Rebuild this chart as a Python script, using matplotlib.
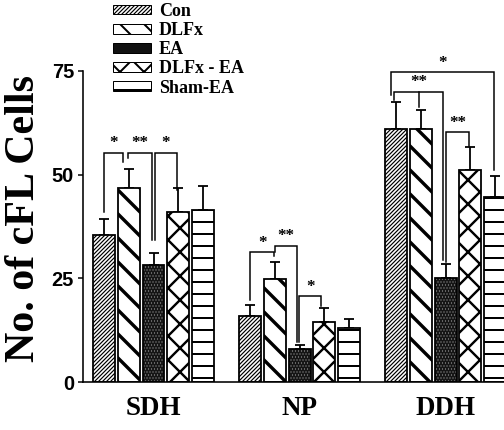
import matplotlib
matplotlib.use("Agg")
import matplotlib.pyplot as plt
from matplotlib.patches import Patch
import numpy as np

# ---------------- data ----------------
regions = ["SDH", "NP", "DDH"]
series = ["Con", "DLFx", "EA", "DLFx - EA", "Sham-EA"]
means = {
    "Con":       [35.4, 15.9, 61.0],
    "DLFx":      [46.7, 24.8, 61.0],
    "EA":        [28.2, 8.0, 25.1],
    "DLFx - EA": [41.0, 14.5, 51.1],
    "Sham-EA":   [41.4, 13.0, 44.6],
}
errors = {
    "Con":       [3.9, 2.7, 6.5],
    "DLFx":      [4.6, 4.1, 4.5],
    "EA":        [2.9, 0.9, 3.3],
    "DLFx - EA": [5.7, 3.3, 5.5],
    "Sham-EA":   [5.8, 2.2, 5.0],
}
yticks = [0, 25, 50, 75]
ylabel = "No. of cFL Cells"

# significance brackets: (group, left bar idx, right bar idx, top y,
#                         left leg bottom, right leg bottom, label, [middle legs (idx, bottom)])
brackets = [
    (0, 0.0, 0.77, 55.2, 41.0, 53.0, "*", []),
    (0, 0.97, 1.94, 55.2, 54.0, 34.2, "**", []),
    (0, 2.06, 2.95, 55.2, 34.2, 46.3, "*", []),
    (1, 0.0, 0.97, 31.3, 19.8, 30.4, "*", []),
    (1, 1.01, 1.90, 32.8, 31.3, 9.6, "**", []),
    (1, 1.98, 2.87, 20.7, 9.6, 18.3, "*", []),
    (2, -0.2, 3.95, 74.7, 69.2, 51.1, "*", []),
    (2, -0.08, 1.9, 69.9, 68.0, 29.4, "**", [(0.93, 66.3)]),
    (2, 2.03, 2.96, 60.2, 29.0, 56.9, "**", []),
]

# ---------------- styles ----------------
SERIF = "Liberation Serif"
SANS = "Liberation Sans"
styles = {
    "Con":       dict(hatch="//////", hlw=1.2, face="white"),
    "DLFx":      dict(hatch="\\", hlw=3.4, face="white"),
    "EA":        dict(hatch="....", hlw=0.6, face="#151515"),
    "DLFx - EA": dict(hatch="x", hlw=2.4, face="white"),
    "Sham-EA":   dict(hatch="-", hlw=2.0, face="white"),
}

fig = plt.figure(figsize=(504 / 72, 430 / 72), dpi=72)
ax = fig.add_axes([83 / 504, 48 / 430, 421 / 504, 311 / 430])

gx = np.arange(len(regions))
step = 0.169
width = 0.15


def with_hatch_lw(artist, lw):
    try:
        artist.set_hatch_linewidth(lw)
    except AttributeError:
        pass
    orig = artist.draw

    def draw(renderer, *a, **kw):
        with plt.rc_context({"hatch.linewidth": lw}):
            return orig(renderer, *a, **kw)

    artist.draw = draw


legend_handles = []
for k, s in enumerate(series):
    st = styles[s]
    x = gx + (k - 2) * step
    with plt.rc_context({"hatch.linewidth": st["hlw"]}):
        if s == "EA":
            bars = ax.bar(x, means[s], width, color=st["face"], edgecolor="#9a9a9a",
                          hatch=st["hatch"], linewidth=0, zorder=2)
            for b in bars:
                with_hatch_lw(b, st["hlw"])
            ax.bar(x, means[s], width, fill=False, edgecolor="black", linewidth=1.8, zorder=3)
            h = Patch(facecolor="#111111", edgecolor="black", linewidth=1.0)
        else:
            bars = ax.bar(x, means[s], width, color=st["face"], edgecolor="black",
                          hatch=st["hatch"], linewidth=1.8, zorder=2)
            for b in bars:
                with_hatch_lw(b, st["hlw"])
            h = Patch(facecolor=st["face"], edgecolor="black", hatch=st["hatch"], linewidth=1.0)
    ax.errorbar(x, means[s], yerr=[np.zeros(len(gx)), errors[s]], fmt="none",
                ecolor="black", elinewidth=1.8, capsize=5, capthick=1.8, zorder=1)
    legend_handles.append(h)

# brackets
for g, li, ri, top, lb, rb, lab, mids in brackets:
    xl = g + (li - 2) * step
    xr = g + (ri - 2) * step
    ax.plot([xl, xl, xr, xr], [lb, top, top, rb], color="black", lw=1.5,
            zorder=4, solid_joinstyle="miter", clip_on=False)
    for mi, mb in mids:
        xm = g + (mi - 2) * step
        ax.plot([xm, xm], [top, mb], color="black", lw=1.5, zorder=4)
    ax.text((xl + xr) / 2, top + 0.4, lab, ha="center", va="bottom",
            fontsize=17, fontweight="bold", family=SERIF)

ax.set_xlim(-0.483, 2.40)
ax.set_ylim(0, 75)
ax.set_yticks(yticks)
ax.set_yticklabels([str(t) for t in yticks], fontsize=20, fontweight="bold", family=SANS)
ax.set_xticks(gx)
ax.set_xticklabels(regions, fontsize=27, fontweight="bold", family=SERIF)
ax.tick_params(axis="x", length=0, pad=14)
ax.tick_params(axis="y", direction="out", length=5, width=1.5, pad=4)
for sp in ["top", "right"]:
    ax.spines[sp].set_visible(False)
for sp in ["left", "bottom"]:
    ax.spines[sp].set_linewidth(1.6)

fig.text(24 / 504, 1 - 218 / 430, ylabel, rotation=90, ha="center", va="center",
         fontsize=42, fontweight="bold", family=SERIF)

leg = fig.legend(legend_handles, series, loc="upper left",
                 bbox_to_anchor=(113 / 504, 1 - 3 / 430), frameon=False,
                 prop={"family": SERIF, "weight": "bold", "size": 18},
                 handlelength=2.1, handleheight=0.45, handletextpad=0.45,
                 labelspacing=0.12, borderpad=0, borderaxespad=0)
for p, s in zip(leg.get_patches(), series):
    with_hatch_lw(p, min(styles[s]["hlw"], 2.0))

fig.savefig("out.png", dpi=72)
